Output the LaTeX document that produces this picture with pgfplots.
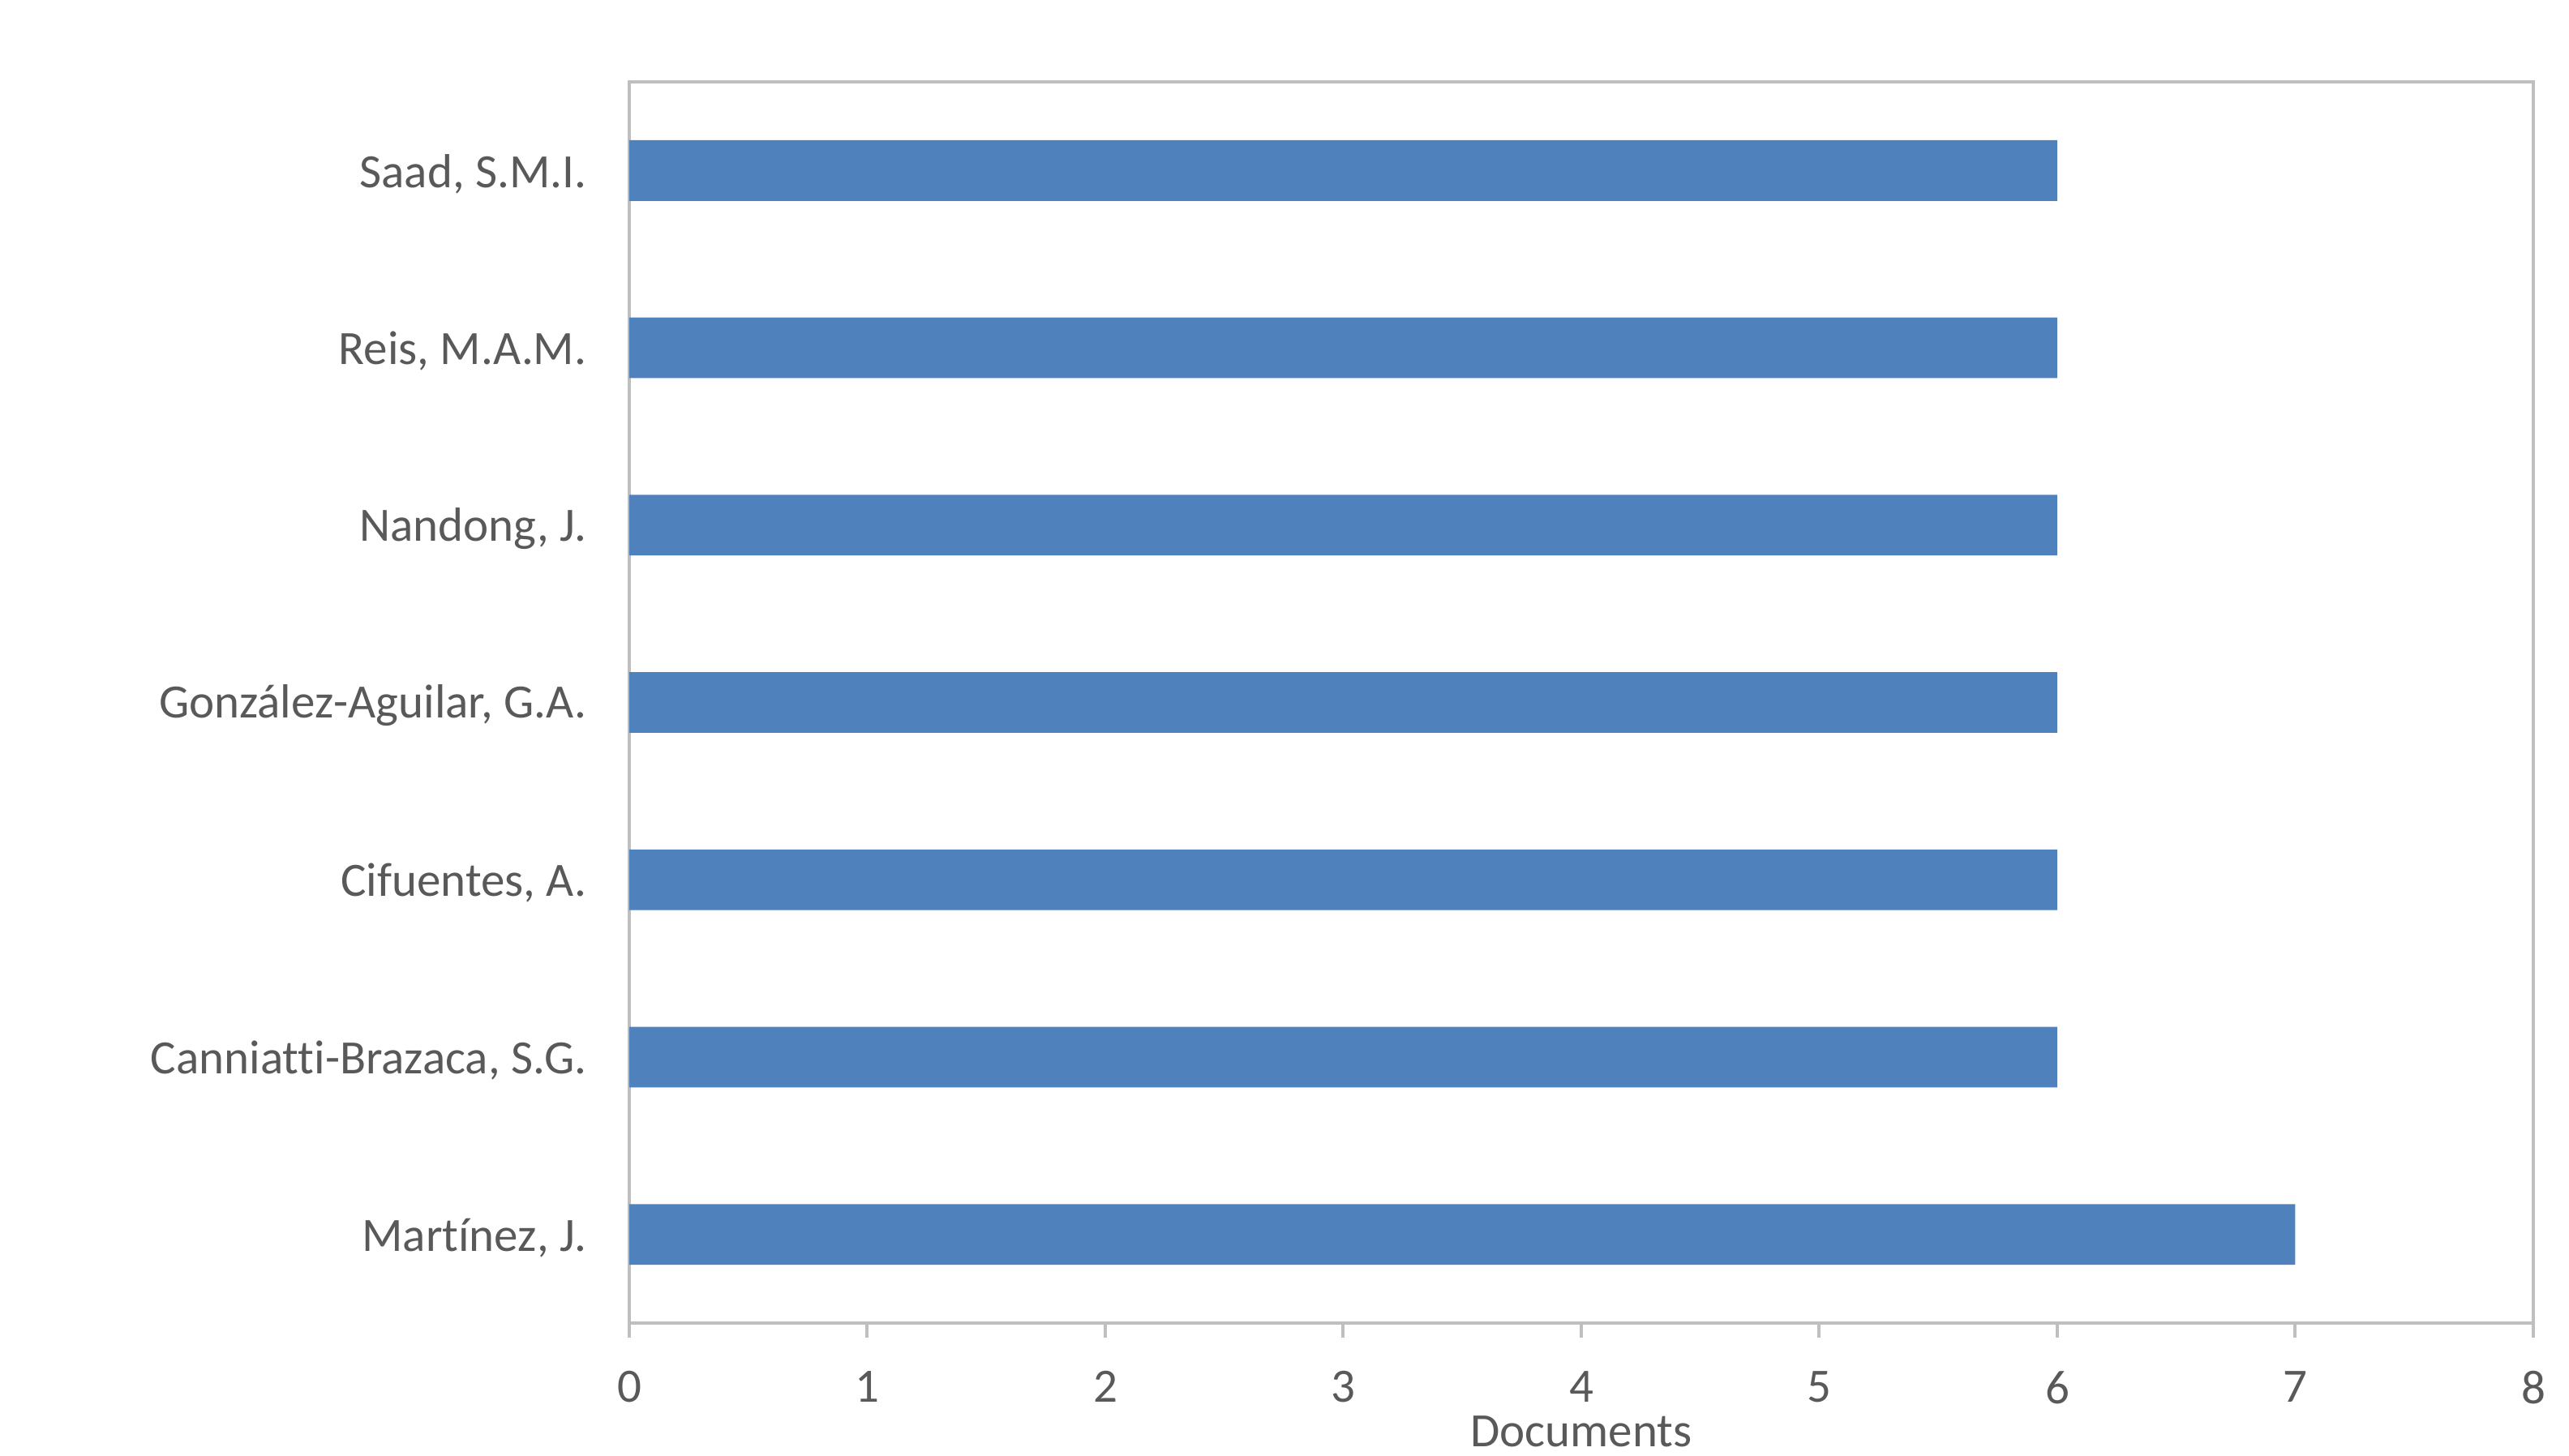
\documentclass[border=0pt]{standalone}
\usepackage{fontspec}
\setmainfont{Carlito}[Ligatures=NoCommon]
\usepackage{pgfplots}
\pgfplotsset{compat=1.18}
\definecolor{barblue}{HTML}{4F81BD}
\definecolor{framegray}{HTML}{BFBFBF}
\definecolor{txtgray}{HTML}{595959}

\begin{document}
\begin{tikzpicture}[font=\fontsize{11.8}{13}\selectfont]
\path[use as bounding box] (-155.2pt,-32.6pt) rectangle (478.4pt,326.4pt);
\begin{axis}[
  at={(0,0)}, anchor=south west,
  scale only axis,
  width=469.6pt, height=306.2pt,
  xbar, bar shift=0pt, bar width=0.342,
  xmin=0, xmax=8, xtick={0,...,8},
  ymin=-0.5, ymax=6.5,
  ytick={0,...,6},
  yticklabels={{Martínez, J.},{Canniatti-Brazaca, S.G.},{Cifuentes, A.},{González-Aguilar, G.A.},{Nandong, J.},{Reis, M.A.M.},{Saad, S.M.I.}},
  axis line style={framegray, line width=0.8pt},
  every tick/.style={framegray, line width=0.8pt},
  tick align=outside,
  xtick pos=bottom,
  ytick style={draw=none},
  major tick length=3.6pt,
  ticklabel style={text=txtgray},
  /pgf/number format/assume math mode=true,
  yticklabel style={xshift=-3.4pt, yshift=-0.8pt},
  xticklabel style={inner ysep=0pt, yshift=-8.1pt},
  xlabel={Documents},
  xlabel style={text=txtgray, at={(axis description cs:0.5,0)}, anchor=center, yshift=-26.8pt, inner sep=0pt},
]
\addplot[fill=barblue, draw=none] coordinates {(7,0) (6,1) (6,2) (6,3) (6,4) (6,5) (6,6)};
\end{axis}
\end{tikzpicture}
\end{document}
